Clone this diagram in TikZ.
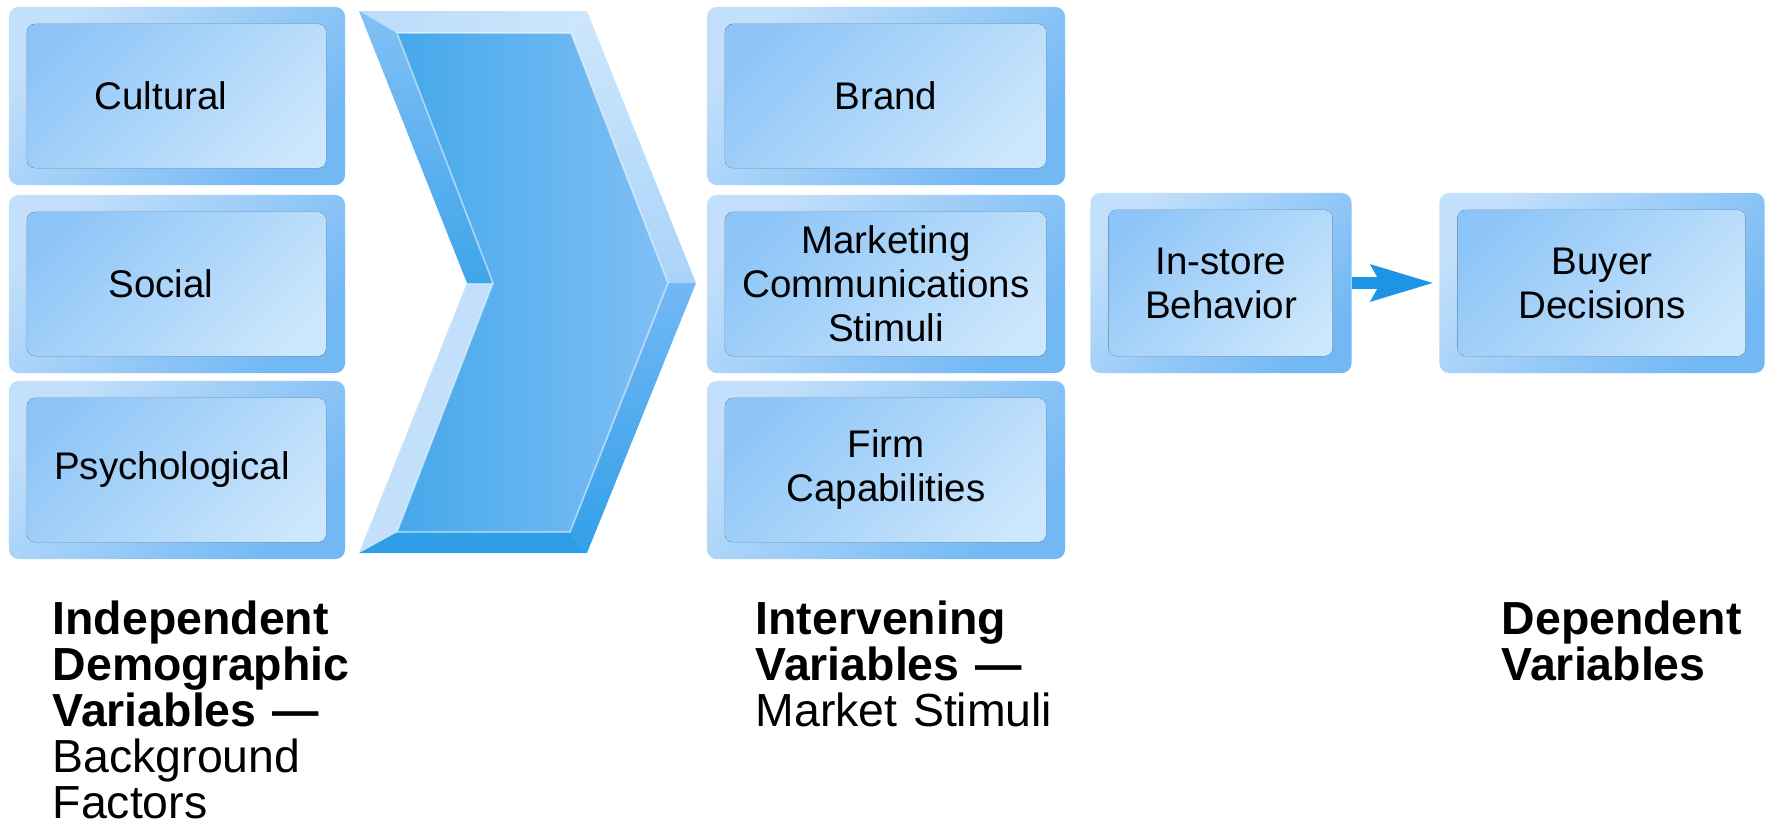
\documentclass[tikz,border=0pt]{standalone}
\usepackage{fontspec}
\setmainfont{Liberation Sans}
\usetikzlibrary{arrows.meta}

\definecolor{rimlight}{HTML}{C2DFFB}
\definecolor{rimdark}{HTML}{72B8F4}
\definecolor{facedark}{HTML}{8CC4F7}
\definecolor{facelight}{HTML}{CDE7FC}
\definecolor{arrowblue}{HTML}{1C95E6}

\tikzset{
  factor/.style={rectangle, rounded corners=2.8pt, inner sep=0pt, align=center,
    font=\fontsize{10.95}{12.5}\selectfont,
    top color=rimlight, bottom color=rimdark, shading angle=45,
    path picture={\fill[rounded corners=2.3pt, top color=facedark, bottom color=facelight, shading angle=45]
      ([shift={(0.18cm,0.17cm)}]path picture bounding box.south west) rectangle
      ([shift={(-0.19cm,-0.17cm)}]path picture bounding box.north east);}},
  leftbox/.style={factor, minimum width=3.36cm, minimum height=1.78cm},
  midbox/.style={factor, minimum width=3.58cm, minimum height=1.78cm},
  heading/.style={anchor=base west, inner sep=0pt, align=left, text width=4cm,
    font=\fontsize{13.2}{13.1}\selectfont},
  flow/.style={draw=arrowblue, line width=3.4pt,
    -{Stealth[length=17.6pt, width=10pt, inset=2.5pt]}, shorten >=1.4pt}
}

\begin{document}
\begin{tikzpicture}[x=0.01cm, y=-0.01cm]
	\useasboundingbox (0,0) rectangle (1774,824);

	% independent factors
	\node[leftbox] (cultural) at (177,96) {Cultural\hspace*{0.32cm}};
	\node[leftbox] (social) at (177,284) {Social\hspace*{0.32cm}};
	\node[leftbox] (psych) at (177,470) {Psychological\hspace*{0.1cm}};

	% chevron
	\coordinate (oA) at (359,11);  \coordinate (iA) at (397,33);
	\coordinate (oB) at (587,11);  \coordinate (iB) at (571,33);
	\coordinate (oC) at (696,283); \coordinate (iC) at (668,283);
	\coordinate (oD) at (587,553); \coordinate (iD) at (570,532);
	\coordinate (oE) at (359,553); \coordinate (iE) at (397,532);
	\coordinate (oF) at (467,283); \coordinate (iF) at (493,283);
	\shade[left color=rimlight!90!rimdark, right color=facelight] (oA) -- (oB) -- (iB) -- (iA) -- cycle;
	\shade[top color=facelight, bottom color=rimlight!70!rimdark] (oB) -- (oC) -- (iC) -- (iB) -- cycle;
	\shade[top color=rimdark, bottom color=arrowblue!90!white] (oC) -- (oD) -- (iD) -- (iC) -- cycle;
	\fill[arrowblue!92!white] (oD) -- (oE) -- (iE) -- (iD) -- cycle;
	\shade[top color=rimlight, bottom color=rimlight!85!facelight] (oE) -- (oF) -- (iF) -- (iE) -- cycle;
	\shade[top color=rimdark!80!rimlight, bottom color=arrowblue!85!white] (oF) -- (oA) -- (iA) -- (iF) -- cycle;
	\shade[left color=arrowblue!82!white, right color=rimdark!90!white] (iA) -- (iB) -- (iC) -- (iD) -- (iE) -- (iF) -- cycle;
	\draw[white, opacity=0.45, line width=0.5pt] (iA) -- (iB) -- (iC) -- (iD) -- (iE) -- (iF) -- cycle;

	% market stimuli
	\node[midbox] (brand) at (886,96) {Brand};
	\node[midbox] (marcom) at (886,284) {Marketing\\Communications\\Stimuli};
	\node[midbox] (firm) at (886,470) {Firm\\Capabilities};

	% dependent
	\node[factor, minimum width=2.61cm, minimum height=1.80cm] (instore) at (1221,283) {In-store\\Behavior};
	\node[factor, minimum width=3.25cm, minimum height=1.80cm] (buyer) at (1602,283) {Buyer\\Decisions};
	\draw[flow] (instore) -- (buyer);

	% column headings
	\node[heading] (indep) at (52,634) {\textbf{Independent}\\\textbf{Demographic}\\\textbf{Variables ---}\\Background\\Factors};
	\node[heading] (interv) at (755,634) {\textbf{Intervening}\\\textbf{Variables ---}\\Market Stimuli};
	\node[heading] (dep) at (1501,634) {\textbf{Dependent}\\\textbf{Variables}};
\end{tikzpicture}
\end{document}
